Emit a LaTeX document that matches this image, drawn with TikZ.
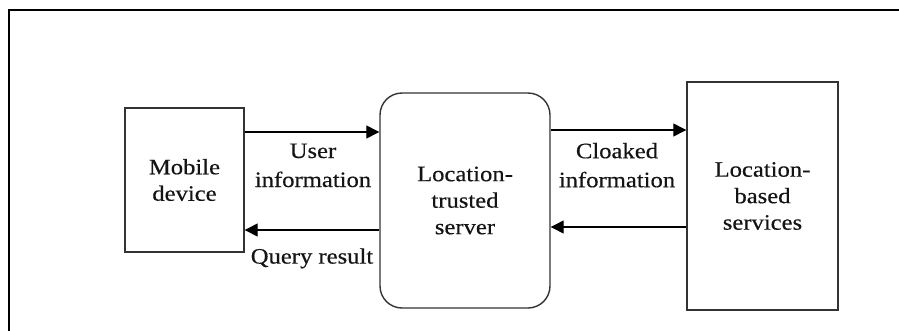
\documentclass[tikz,border=0pt]{standalone}
\usepackage{fontspec}
\setmainfont[FakeStretch=1.12,FakeBold=0.4]{Liberation Serif}
\usetikzlibrary{arrows.meta}
\definecolor{inkgray}{HTML}{333333}
\definecolor{txtgray}{HTML}{141414}
\begin{document}
\begin{tikzpicture}[x=1pt,y=-1pt,
  every node/.style={font=\fontsize{22}{26.5}\selectfont, text=txtgray, align=center},
  squarebox/.style={draw=inkgray, line width=1.4pt, inner sep=0pt},
  roundbox/.style={squarebox, rounded corners=22pt},
  flow/.style={line width=1.3pt, -{Triangle[length=13pt,width=13pt]}},
  caption/.style={inner sep=0pt}]
\useasboundingbox (0,0) rectangle (899,330);
% page frame (open at the right and bottom)
\draw[line width=2pt, black] (9,340) -- (9,10) -- (910,10);

% the three parties
\node[squarebox, minimum width=119pt, minimum height=144pt] (mobile) at (184.5,180) {Mobile\\device};
\node[roundbox, minimum width=170pt, minimum height=215pt] (server) at (465,200.5) {Location-\\trusted\\server};
\node[squarebox, minimum width=151pt, minimum height=228pt] (lbs) at (762.5,196) {Location-\\based\\services};

% messages between them
\draw[flow] (mobile.east |- 0,132) -- (server.west |- 0,132);
\draw[flow] (server.west |- 0,230) -- (mobile.east |- 0,230);
\draw[flow] (server.east |- 0,130) -- (lbs.west |- 0,130);
\draw[flow] (lbs.west |- 0,227) -- (server.east |- 0,227);

% message labels
\node[caption] (userinfo) at (313,165.4) {User\\[2.5pt]information};
\node[caption] (query) at (312,258.3) {Query result};
\node[caption] (cloaked) at (617,165.2) {Cloaked\\[2.5pt]information};
\end{tikzpicture}
\end{document}
